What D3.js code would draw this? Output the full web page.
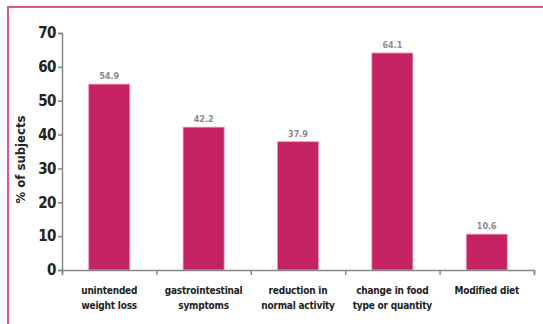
<!DOCTYPE html>
<html lang="en">
<head>
<meta charset="UTF-8">
<title>% of subjects</title>
<style>
  body { margin: 0; background: #fff; }
  .tick text { font-family: "Liberation Sans Narrow", "DejaVu Sans Condensed", sans-serif; font-weight: bold; }
</style>
<script src="https://d3js.org/d3.v7.min.js"></script>
</head>
<body>
<svg id="chart"></svg>
<script>
// data
var categories = [
  ["unintended", "weight loss"],
  ["gastrointestinal", "symptoms"],
  ["reduction in", "normal activity"],
  ["change in food", "type or quantity"],
  ["Modified diet"]
];
var values = [54.9, 42.2, 37.9, 64.1, 10.6];
var yTicks = [0, 10, 20, 30, 40, 50, 60, 70];

var svgWidth = 543, svgHeight = 324;
var plotLeft = 62, plotRight = 534, plotTop = 33, plotBottom = 270;
var barColor = "#c42263";
var font = "'Liberation Sans Narrow', 'DejaVu Sans Condensed', sans-serif";

var svg = d3.select("#chart")
    .attr("width", svgWidth)
    .attr("height", svgHeight);

// frame
svg.append("rect")
    .attr("x", 8).attr("y", 7)
    .attr("width", 560).attr("height", 340)
    .attr("fill", "none")
    .attr("stroke", "#d6588a")
    .attr("stroke-width", 2);

var idx = d3.range(values.length);
var xs = d3.scaleBand().domain(idx).range([plotLeft, plotRight]).paddingInner(0.565).paddingOuter(0.283);
var xTickScale = d3.scaleLinear().domain([0, values.length]).range([plotLeft, plotRight]);
var ys = d3.scaleLinear().domain([0, 70]).range([plotBottom, plotTop]);

// bars
svg.selectAll("rect.bar")
    .data(values)
    .enter()
    .append("rect")
    .attr("class", "bar")
    .attr("x", function(d, i) { return xs(i); })
    .attr("y", function(d) { return ys(d); })
    .attr("width", xs.bandwidth())
    .attr("height", function(d) { return plotBottom - ys(d); })
    .attr("fill", barColor)
    .attr("stroke", "#ef9dbd")
    .attr("stroke-width", 0.8);

// value labels
svg.selectAll("text.val")
    .data(values)
    .enter()
    .append("text")
    .attr("class", "val")
    .attr("x", function(d, i) { return xs(i) + xs.bandwidth() / 2; })
    .attr("y", function(d) { return ys(d) - 5; })
    .attr("text-anchor", "middle")
    .attr("font-family", font)
    .attr("font-weight", "bold")
    .attr("font-size", "9px")
    .attr("fill", "#8a8a8a")
    .text(function(d) { return d.toFixed(1); });

// y axis
var yAxis = svg.append("g")
    .attr("transform", "translate(" + plotLeft + ",0)")
    .call(d3.axisLeft(ys).tickValues(yTicks).tickSize(4).tickPadding(2));
yAxis.select(".domain").attr("stroke", "#888").attr("stroke-width", 1.5);
yAxis.selectAll(".tick line").attr("stroke", "#888").attr("stroke-width", 1.5);
yAxis.selectAll(".tick text").attr("font-size", "15px").attr("fill", "#222").attr("letter-spacing", "-0.5px");

// x axis with ticks between categories
var xAxis = svg.append("g")
    .attr("transform", "translate(0," + plotBottom + ")")
    .call(d3.axisBottom(xTickScale).tickValues(d3.range(values.length + 1)).tickSize(5).tickFormat(""));
xAxis.select(".domain").attr("stroke", "#888").attr("stroke-width", 1.5);
xAxis.selectAll(".tick line").attr("stroke", "#888").attr("stroke-width", 1.5);

// category labels
var cat = svg.selectAll("text.cat")
    .data(categories)
    .enter()
    .append("text")
    .attr("class", "cat")
    .attr("text-anchor", "middle")
    .attr("font-family", font)
    .attr("font-weight", "bold")
    .attr("font-size", "10px")
    .attr("letter-spacing", "-0.2px")
    .attr("fill", "#222");
cat.selectAll("tspan")
    .data(function(d, i) { return d.map(function(s) { return { s: s, i: i }; }); })
    .enter()
    .append("tspan")
    .attr("x", function(d) { return xs(d.i) + xs.bandwidth() / 2; })
    .attr("y", function(d, j) { return 294 + j * 15; })
    .text(function(d) { return d.s; });

// y label
svg.append("text")
    .attr("transform", "translate(25," + ((plotTop + plotBottom) / 2 + 8) + ") rotate(-90)")
    .attr("text-anchor", "middle")
    .attr("font-family", font)
    .attr("font-weight", "bold")
    .attr("font-size", "13px")
    .attr("fill", "#222")
    .text("% of subjects");
</script>
</body>
</html>
